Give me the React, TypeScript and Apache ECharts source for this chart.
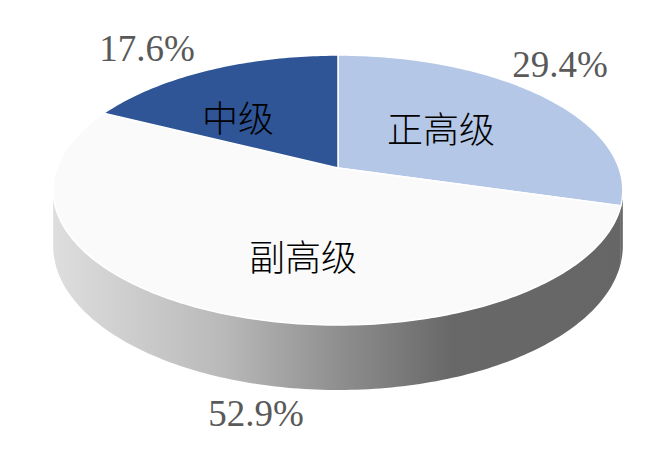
import React, { useEffect, useRef } from "react";
import * as echarts from "echarts";

// ---- data ----
const categories = ["正高级", "副高级", "中级"];
const shares = [29.4, 52.9, 17.6];

// ---- styles / layout ----
const sliceColors = ["#B4C7E7", "#FAFAFA", "#2F5597"];
const CX = 338; // projected pie centre
const CY = 168;
const AX = 281; // horizontal radius factor
const BY = 131.4; // vertical radius factor
const K = 0.163; // perspective factor
const H = 54.4; // thickness factor
const innerLabelOffsets = [
  [103, -41],
  [-35, 87],
  [-100, -52],
];
const outerLabelOffsets = [
  [222, -104],
  [-82, 245],
  [-191, -120],
];

function proj(thetaDeg: number, r: number) {
  const t = (thetaDeg * Math.PI) / 180;
  const u = r * Math.sin(t);
  const v = r * Math.cos(t);
  const w = 1 + K * v;
  return [CX + (AX * u) / w, CY - (BY * v) / w, w];
}

const total = shares.reduce((a, b) => a + b, 0);
const startAngles: number[] = [];
const endAngles: number[] = [];
{
  let acc = 0;
  shares.forEach((v) => {
    startAngles.push((acc / total) * 360);
    acc += v;
    endAngles.push((acc / total) * 360);
  });
}
const silhouette = (Math.acos(-K) * 180) / Math.PI; // ~99.4 deg

function arcPoints(a0: number, a1: number) {
  const pts: number[][] = [];
  const n = Math.max(2, Math.ceil(Math.abs(a1 - a0) / 1));
  for (let j = 0; j <= n; j++) {
    const a = a0 + ((a1 - a0) * j) / n;
    pts.push(proj(a, 1));
  }
  return pts;
}

export default function App() {
  const ref = useRef<HTMLDivElement>(null);
  useEffect(() => {
    document.body.style.margin = "0";
    if (!ref.current) return;
    const chart = echarts.init(ref.current, undefined, { renderer: "svg" });
    const wallGradient = new echarts.graphic.LinearGradient(
      53,
      0,
      623,
      0,
      [
        { offset: 0, color: "#dedede" },
        { offset: 0.3, color: "#b9b9b9" },
        { offset: 0.5, color: "#8f8f8f" },
        { offset: 0.7, color: "#686868" },
        { offset: 1, color: "#666666" },
      ],
      true
    );
    const data = shares.map((v, i) => [i, v]);
    chart.setOption({
      animation: false,
      backgroundColor: "#ffffff",
      series: [
        {
          type: "custom",
          coordinateSystem: "none",
          silent: true,
          data,
          renderItem: (params: any) => {
            const i = params.dataIndex;
            const a0 = Math.max(startAngles[i], silhouette);
            const a1 = Math.min(endAngles[i], 360 - silhouette);
            if (a1 <= a0) return { type: "group", children: [] };
            const top = arcPoints(a0, a1);
            const bottom = top
              .map((p) => [p[0], p[1] + H / p[2]])
              .reverse();
            const pts = top.map((p) => [p[0], p[1]]).concat(bottom);
            return {
              type: "polygon",
              shape: { points: pts },
              style: { fill: wallGradient, stroke: null },
            };
          },
        },
        {
          type: "custom",
          coordinateSystem: "none",
          silent: true,
          data,
          renderItem: (params: any) => {
            const i = params.dataIndex;
            const pts = [[CX, CY]].concat(
              arcPoints(startAngles[i], endAngles[i]).map((p) => [p[0], p[1]])
            );
            return {
              type: "polygon",
              shape: { points: pts },
              style: { fill: sliceColors[i], stroke: "#ffffff", lineWidth: 1.5 },
            };
          },
        },
        {
          type: "custom",
          coordinateSystem: "none",
          silent: true,
          data,
          renderItem: (params: any, api: any) => {
            const i = params.dataIndex;
            const val = api.value(1);
            return {
              type: "group",
              children: [
                {
                  type: "text",
                  x: CX + innerLabelOffsets[i][0],
                  y: CY + innerLabelOffsets[i][1],
                  style: {
                    text: categories[i],
                    fill: "#000000",
                    fontSize: 36,
                    fontWeight: 300,
                    fontFamily: "Noto Sans CJK SC",
                    align: "center",
                    verticalAlign: "middle",
                  },
                },
                {
                  type: "text",
                  x: CX + outerLabelOffsets[i][0],
                  y: CY + outerLabelOffsets[i][1],
                  style: {
                    text: Number(val).toFixed(1) + "%",
                    fill: "#595959",
                    fontSize: 37,
                    fontFamily: "Times New Roman, Liberation Serif, DejaVu Serif, serif",
                    align: "center",
                    verticalAlign: "middle",
                  },
                },
              ],
            };
          },
        },
      ],
    });
    return () => chart.dispose();
  }, []);
  return <div ref={ref} style={{ width: 665, height: 451 }} />;
}
